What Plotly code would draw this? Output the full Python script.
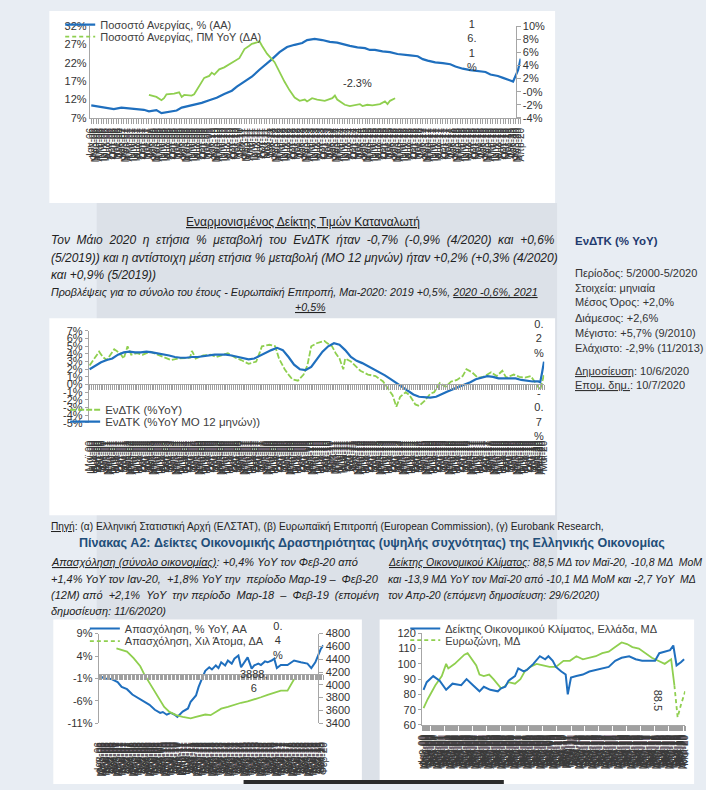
import plotly.graph_objects as go
import pandas as pd

W, H = 706, 790
FONT = "Liberation Sans, Arial, sans-serif"
BLUE = "#1f6fbe"
GREEN = "#8fcf4f"
TXT = "#333333"
AXC = "#a6a6a6"
NB = "\u00a0"


def X(px):
    return px / W


def Y(py):
    return 1 - py / H


GR_MONTHS = ["Ιαν", "Φεβ", "Μαρ", "Απρ", "Μαϊ", "Ιουν", "Ιουλ", "Αυγ", "Σεπ", "Οκτ", "Νοε", "Δεκ"]

# ---------------- Chart 1: unemployment ----------------
unemp_dates = ["2006-01", "2006-05", "2006-09", "2006-10", "2007-01", "2007-04", "2007-07", "2007-10", "2007-12",
               "2008-03", "2008-05", "2008-07", "2008-09", "2008-11", "2009-01", "2009-04", "2009-07", "2009-09",
               "2009-12", "2010-03", "2010-06", "2010-09", "2010-11", "2011-02", "2011-05", "2011-08", "2011-11",
               "2012-01", "2012-04", "2012-07", "2012-10", "2013-01", "2013-03", "2013-06", "2013-09", "2013-12",
               "2014-03", "2014-06", "2014-08", "2014-11", "2015-02", "2015-04", "2015-06", "2015-09", "2015-12",
               "2016-03", "2016-05", "2016-08", "2016-11", "2017-01", "2017-03", "2017-06", "2017-09", "2017-12",
               "2018-02", "2018-05", "2018-08", "2018-11", "2019-02", "2019-04", "2019-07", "2019-09", "2019-12",
               "2020-01", "2020-03", "2020-04"]
unemp_rate = [10.4, 10.0, 9.7, 9.4, 9.8, 9.6, 9.3, 9.2, 8.8,
              9.1, 8.3, 8.6, 8.8, 9.0, 9.8, 10.3, 10.6, 11.1,
              11.8, 12.5, 13.5, 14.4, 15.5, 16.8, 18.2, 20.1, 21.8,
              23.0, 24.9, 26.3, 26.9, 27.4, 28.2, 28.5, 28.2, 27.7,
              27.5, 26.9, 26.6, 26.2, 26.0, 25.5, 25.5, 25.1, 24.9,
              24.4, 24.2, 24.0, 23.8, 23.0, 22.6, 22.1, 21.9, 21.6,
              21.0, 20.4, 20.0, 19.7, 19.5, 18.8, 18.4, 17.9, 17.2,
              16.9, 20.0, 23.1]
unemp_chg_dates = ["2007-12", "2008-03", "2008-05", "2008-06", "2008-07", "2008-10", "2008-12", "2009-01", "2009-02",
                   "2009-05", "2009-06", "2009-07", "2009-09", "2009-10", "2009-12", "2010-01", "2010-02", "2010-04",
                   "2010-06", "2010-08", "2010-10", "2010-12", "2011-01", "2011-02", "2011-04", "2011-05", "2011-07",
                   "2011-08", "2011-09", "2011-11", "2012-02", "2012-04", "2012-06", "2012-08", "2012-10", "2012-12",
                   "2013-02", "2013-03", "2013-05", "2013-07", "2013-09", "2013-10", "2014-01", "2014-02", "2014-03",
                   "2014-06", "2014-08", "2014-10", "2014-12", "2015-01", "2015-03", "2015-05", "2015-08", "2015-10",
                   "2015-11", "2015-12", "2016-02"]
unemp_chg = [-0.5, -0.8, -1.3, -1.0, -0.4, -0.3, -0.1, -0.8, -0.5,
             -0.6, -0.4, 0.2, 1.5, 2.1, 2.4, 2.9, 2.6, 3.4,
             3.7, 4.2, 4.7, 5.1, 5.8, 6.5, 7.0, 7.3, 7.5,
             7.7, 7.0, 5.8, 4.5, 2.9, 1.5, 0.2, -0.9, -1.4,
             -1.2, -1.5, -1.0, -1.2, -1.3, -1.4, -1.0, -0.6, -1.2,
             -2.0, -2.2, -2.1, -1.9, -2.2, -2.0, -2.1, -1.9, -1.5,
             -1.9, -1.4, -1.0]
c1_left_ticks = [7, 12, 17, 22, 27, 32]
c1_left_text = ["7%", "12%", "17%", "22%", "27%", "32%"]
c1_right_ticks = [-4, -2, 0, 2, 4, 6, 8, 10]
c1_right_text = ["-4%", "-2%", "-0%", "2%", "4%", "6%", "8%", "10%"]

# ---------------- Chart 2: HICP ----------------
hicp_ma_dates = ["2000-05", "2000-08", "2000-11", "2001-02", "2001-05", "2001-08", "2001-11", "2002-02", "2002-05",
                 "2002-08", "2002-11", "2003-02", "2003-05", "2003-08", "2003-11", "2004-02", "2004-05", "2004-08",
                 "2004-11", "2005-02", "2005-05", "2005-08", "2005-11", "2006-02", "2006-05", "2006-08", "2006-11",
                 "2007-02", "2007-05", "2007-08", "2007-11", "2008-02", "2008-05", "2008-08", "2008-11", "2009-02",
                 "2009-05", "2009-08", "2009-11", "2010-02", "2010-05", "2010-08", "2010-11", "2011-02", "2011-05",
                 "2011-08", "2011-11", "2012-02", "2012-05", "2012-08", "2012-11", "2013-02", "2013-05", "2013-08",
                 "2013-11", "2014-02", "2014-05", "2014-08", "2014-11", "2015-02", "2015-05", "2015-08", "2015-11",
                 "2016-02", "2016-05", "2016-08", "2016-11", "2017-02", "2017-05", "2017-08", "2017-11", "2018-02",
                 "2018-05", "2018-08", "2018-11", "2019-02", "2019-05", "2019-08", "2019-11", "2020-02", "2020-03",
                 "2020-04", "2020-05"]
hicp_ma = [2.0, 2.5, 2.9, 3.2, 3.4, 3.9, 4.2, 4.3, 4.2,
           4.2, 4.3, 4.2, 4.1, 4.0, 3.8, 3.6, 3.5, 3.5,
           3.6, 3.6, 3.7, 3.8, 3.9, 3.9, 3.9, 3.8, 3.6,
           3.4, 3.3, 3.4, 3.8, 4.1, 4.5, 4.8, 4.5, 3.6,
           2.6, 2.0, 1.9, 2.3, 3.3, 4.3, 5.0, 5.4, 5.2,
           4.5, 3.6, 3.1, 2.8, 2.4, 2.0, 1.6, 1.2, 0.7,
           0.2, -0.3, -0.8, -1.3, -1.6, -1.7, -1.7, -1.6, -1.2,
           -0.9, -0.6, -0.3, -0.1, 0.3, 0.7, 0.9, 1.1, 1.0,
           0.8, 0.8, 0.8, 0.8, 0.6, 0.5, 0.4, 0.4, 0.3,
           1.6, 3.0]
hicp_yoy_dates = ["2000-05", "2000-07", "2000-10", "2000-12", "2001-02", "2001-04", "2001-06", "2001-09", "2001-11",
                  "2002-01", "2002-03", "2002-06", "2002-09", "2003-01", "2003-05", "2003-08", "2003-12", "2004-04",
                  "2004-08", "2004-10", "2004-11", "2005-01", "2005-05", "2005-09", "2005-12", "2006-04", "2006-06",
                  "2006-10", "2007-01", "2007-05", "2007-09", "2007-11", "2007-12", "2008-04", "2008-07", "2008-09",
                  "2008-12", "2009-02", "2009-04", "2009-07", "2009-10", "2009-12", "2010-02", "2010-05", "2010-09",
                  "2010-10", "2011-01", "2011-03", "2011-05", "2011-07", "2011-08", "2011-11", "2012-02", "2012-04",
                  "2012-08", "2012-12", "2013-04", "2013-06", "2013-09", "2013-11", "2014-01", "2014-04", "2014-06",
                  "2014-09", "2014-11", "2015-02", "2015-05", "2015-07", "2015-10", "2016-01", "2016-04", "2016-07",
                  "2016-10", "2016-12", "2017-03", "2017-06", "2017-09", "2018-01", "2018-04", "2018-07", "2018-09",
                  "2019-01", "2019-04", "2019-07", "2019-10", "2019-12", "2020-02", "2020-03", "2020-05"]
hicp_yoy = [2.5, 3.2, 4.3, 3.6, 3.2, 3.9, 4.6, 4.1, 3.4,
            5.0, 3.9, 4.1, 3.9, 4.3, 3.9, 3.6, 3.2, 3.4,
            3.5, 3.5, 4.4, 3.4, 3.8, 3.9, 3.6, 4.0, 4.1,
            3.5, 3.2, 2.7, 3.0, 4.3, 5.0, 5.2, 5.0, 3.4,
            2.0, 1.3, 0.7, 0.5, 1.3, 2.5, 5.0, 5.4, 5.7,
            5.5, 5.0, 4.1, 3.4, 2.0, 3.4, 3.0, 2.3, 1.8,
            1.3, 1.1, 0.4, -0.3, -1.4, -2.9, -1.6, -1.0, -1.4,
            -2.6, -2.8, -2.1, -1.2, -1.0, 0.2, -0.3, 0.4, 0.6,
            1.1, 2.0, 1.6, 0.9, 1.0, 1.6, 1.1, 1.8, 0.9,
            1.3, 1.0, 0.9, 1.1, 0.4, -0.3, -0.7, 1.3]
c2_ticks = [-5, -4, -3, -2, -1, 0, 1, 2, 3, 4, 5, 6, 7]
c2_text = ["-5%", "-4%", "-3%", "-2%", "-1%", "0%", "1%", "2%", "3%", "4%", "5%", "6%", "7%"]

# ---------------- Chart 3: employment ----------------
emp_yoy_dates = ["2006-01", "2006-05", "2006-10", "2007-03", "2007-06", "2007-10", "2008-02", "2008-05", "2008-10",
                 "2009-03", "2009-07", "2009-11", "2010-01", "2010-04", "2010-07", "2010-10", "2010-12", "2011-04",
                 "2011-08", "2011-10", "2012-02", "2012-04", "2012-07", "2012-09", "2012-12", "2013-02", "2013-05",
                 "2013-07", "2013-09", "2013-12", "2014-02", "2014-05", "2014-07", "2014-10", "2014-12", "2015-03",
                 "2015-05", "2015-08", "2015-10", "2016-01", "2016-03", "2016-06", "2016-08", "2016-11", "2017-01",
                 "2017-03", "2017-06", "2017-11", "2018-04", "2018-09", "2019-02", "2019-05", "2019-08", "2019-12",
                 "2020-02"]
emp_yoy = [-0.4, -1.0, -1.1, -1.8, -2.9, -3.4, -4.6, -5.1, -6.0,
           -6.9, -8.0, -8.7, -8.5, -9.1, -8.7, -9.1, -9.6, -8.4,
           -7.7, -6.2, -4.8, -2.9, -0.7, 0.7, 1.5, 1.0, 1.9,
           1.3, 2.6, 1.9, 3.0, 2.3, 3.4, 4.1, 1.5, 3.0,
           3.7, 1.2, 1.9, 2.3, 2.0, 2.8, 2.6, 3.0, 3.4,
           1.3, 2.0, 2.0, 3.0, 2.6, 2.3, 1.3, 2.6, 5.5,
           6.4]
emp_lvl_dates = ["2007-02", "2007-05", "2007-10", "2008-03", "2008-08", "2008-11", "2009-03", "2009-07", "2009-11",
                 "2010-02", "2010-06", "2010-11", "2011-04", "2011-08", "2011-10", "2012-02", "2012-06", "2012-09",
                 "2013-01", "2013-05", "2013-09", "2014-02", "2014-07", "2014-12", "2015-05", "2015-10", "2016-03",
                 "2016-08", "2017-01", "2017-06", "2017-11", "2018-01", "2018-04"]
emp_lvl = [4571, 4555, 4520, 4418, 4290, 4163, 4035, 3893, 3755,
           3654, 3577, 3526, 3500, 3485, 3475, 3500, 3526, 3536,
           3526, 3577, 3628, 3654, 3689, 3720, 3740, 3770, 3806,
           3842, 3872, 3908, 3908, 3985, 4087]
c3_left_ticks = [-11, -6, -1, 4, 9]
c3_left_text = ["-11%", "-6%", "-1%", "4%", "9%"]
c3_right_ticks = [3400, 3600, 3800, 4000, 4200, 4400, 4600, 4800]

# ---------------- Chart 4: economic sentiment ----------------
esi_dates_gr = ["2000-02", "2000-05", "2000-11", "2001-05", "2001-11", "2002-05", "2003-01", "2003-06", "2003-12",
                "2004-06", "2004-10", "2005-04", "2005-11", "2006-02", "2006-06", "2006-09", "2007-03", "2007-06",
                "2007-11", "2008-02", "2008-08", "2009-02", "2009-07", "2009-10", "2010-02", "2010-05", "2010-10",
                "2011-02", "2011-04", "2011-07", "2011-12", "2012-06", "2012-12", "2013-06", "2013-12", "2014-06",
                "2014-12", "2015-06", "2016-01", "2016-07", "2017-01", "2017-07", "2018-01", "2018-05", "2018-10",
                "2019-03", "2019-06", "2019-09", "2020-01", "2020-04"]
esi_gr = [83, 88, 92, 89, 83, 87, 86, 90, 86,
          82, 85, 83, 82, 84, 85, 89, 92, 97,
          95, 96, 100, 105, 103, 105, 102, 98, 95,
          93, 80, 91, 92, 93, 95, 96, 97, 98,
          102, 104, 105, 103, 102, 102, 102, 107, 108,
          109, 112, 99, 101, 103]
esi_dates_ez = ["2000-02", "2000-06", "2001-01", "2001-07", "2001-11", "2002-01", "2002-07", "2002-11", "2003-04",
                "2003-07", "2003-10", "2004-03", "2004-06", "2004-10", "2005-03", "2005-07", "2006-02", "2006-05",
                "2006-09", "2007-03", "2007-08", "2007-12", "2008-05", "2008-11", "2009-05", "2009-11", "2010-05",
                "2010-12", "2011-06", "2011-12", "2012-06", "2012-12", "2013-06", "2013-12", "2014-06", "2014-12",
                "2015-06", "2015-11", "2016-04", "2016-10", "2017-04", "2017-10", "2018-04", "2018-10", "2019-04",
                "2019-07", "2019-10", "2020-01", "2020-05"]
esi_ez = [71, 77, 86, 92, 100, 97, 100, 103, 106,
          107, 104, 99, 93, 92, 93, 90, 84, 85,
          88, 87, 90, 95, 98, 100, 99, 98, 98,
          102, 102, 105, 103, 104, 105, 107, 108, 111,
          114, 113, 111, 110, 107, 104, 102, 100, 103,
          86, 65, 73, 82]
c4_ticks = [60, 70, 80, 90, 100, 110, 120]


def month_ticks(start, end):
    d = pd.date_range(start, end, freq="MS")
    return [v.strftime("%Y-%m-%d") for v in d], [f"{GR_MONTHS[v.month - 1]}-{v.strftime('%y')}" for v in d]


t1v, t1t = month_ticks("2006-01-01", "2020-04-01")
t2v, t2t = month_ticks("2000-05-01", "2020-05-01")
t3v, t3t = month_ticks("2006-01-01", "2020-02-01")
t4v, t4t = month_ticks("2000-01-01", "2020-05-01")

fig = go.Figure()

# chart 1 traces
fig.add_trace(go.Scatter(x=unemp_chg_dates, y=unemp_chg, xaxis="x", yaxis="y2", mode="lines",
                         line=dict(color=GREEN, width=1.8), showlegend=False, hoverinfo="skip"))
fig.add_trace(go.Scatter(x=unemp_dates, y=unemp_rate, xaxis="x", yaxis="y", mode="lines",
                         line=dict(color=BLUE, width=2.2), name="Ποσοστό Ανεργίας, % (ΑΑ)", legend="legend"))
fig.add_trace(go.Scatter(x=[None], y=[None], xaxis="x", yaxis="y2", mode="lines",
                         line=dict(color=GREEN, width=1.8, dash="4px,3px"),
                         name="Ποσοστό Ανεργίας, ΠΜ YoY (ΔΑ)", legend="legend2"))

# chart 2 traces
fig.add_trace(go.Scatter(x=hicp_yoy_dates, y=hicp_yoy, xaxis="x2", yaxis="y3", mode="lines",
                         line=dict(color=GREEN, width=1.8, dash="6px,2px"), name="ΕνΔΤΚ (%YoY)", legend="legend3"))
fig.add_trace(go.Scatter(x=hicp_ma_dates, y=hicp_ma, xaxis="x2", yaxis="y3", mode="lines",
                         line=dict(color=BLUE, width=2.2), name="ΕνΔΤΚ (%YoY ΜΟ 12 μηνών))", legend="legend4"))
fig.add_trace(go.Scatter(x=[t2v[0]], y=[None], xaxis="x3", yaxis="y3", mode="lines",
                         showlegend=False, hoverinfo="skip"))

# chart 3 traces
fig.add_trace(go.Scatter(x=emp_lvl_dates, y=emp_lvl, xaxis="x4", yaxis="y5", mode="lines",
                         line=dict(color=GREEN, width=1.8), showlegend=False, hoverinfo="skip"))
fig.add_trace(go.Scatter(x=emp_yoy_dates, y=emp_yoy, xaxis="x4", yaxis="y4", mode="lines",
                         line=dict(color=BLUE, width=2.0), name="Απασχόληση, % YoY, ΑΑ", legend="legend5"))
fig.add_trace(go.Scatter(x=[None], y=[None], xaxis="x4", yaxis="y5", mode="lines",
                         line=dict(color=GREEN, width=1.8, dash="4px,3px"),
                         name="Απασχόληση, Χιλ Άτομα, ΔΑ", legend="legend6"))
fig.add_trace(go.Scatter(x=[t3v[0]], y=[None], xaxis="x5", yaxis="y4", mode="lines",
                         showlegend=False, hoverinfo="skip"))

# chart 4 traces
fig.add_trace(go.Scatter(x=esi_dates_ez[:-3], y=esi_ez[:-3], xaxis="x6", yaxis="y6", mode="lines",
                         line=dict(color=GREEN, width=1.8), showlegend=False, hoverinfo="skip"))
fig.add_trace(go.Scatter(x=esi_dates_ez[-4:], y=esi_ez[-4:], xaxis="x6", yaxis="y6", mode="lines",
                         line=dict(color=GREEN, width=1.8, dash="4px,3px"), name="Ευρωζώνη, ΜΔ", legend="legend8"))
fig.add_trace(go.Scatter(x=esi_dates_gr, y=esi_gr, xaxis="x6", yaxis="y6", mode="lines",
                         line=dict(color=BLUE, width=2.0), name="Δείκτης Οικονομικού Κλίματος, Ελλάδα, ΜΔ",
                         legend="legend7"))

tickfont_x = dict(size=10, color="#3a3a3a", family=FONT)
tickfont_y = dict(size=11, color=TXT, family=FONT)


def xlab_axis(domain, rng, tv, tt, anchor, ticklen=5, tickcolor="#a0a0a0", showline=True):
    return dict(domain=domain, anchor=anchor, type="date", range=rng, tickmode="array", tickvals=tv,
                ticktext=tt, tickangle=-90, ticks="outside", ticklen=ticklen, tickcolor=tickcolor,
                tickwidth=1, showline=showline, linecolor=AXC, showgrid=False, zeroline=False,
                tickfont=tickfont_x, fixedrange=True)


def tick_axis(over, pos, tv):
    return dict(overlaying=over, matches=over, anchor="free", position=pos, type="date", tickmode="array",
                tickvals=tv, showticklabels=False, ticks="outside", ticklen=5, tickcolor="#a0a0a0",
                tickwidth=1, showline=True, linecolor=AXC, showgrid=False, zeroline=False)


def yax(domain, rng, tv, tt, anchor, **kw):
    d = dict(domain=domain, range=rng, tickmode="array", tickvals=tv, ticktext=tt, showline=True,
             linecolor=AXC, showgrid=False, zeroline=False, ticks="outside", ticklen=3, tickcolor=AXC,
             tickfont=tickfont_y, anchor=anchor, fixedrange=True)
    d.update(kw)
    return d


layout = dict(
    width=W, height=H, margin=dict(l=0, r=0, t=0, b=0), paper_bgcolor="#e8edf3", plot_bgcolor="rgba(0,0,0,0)",
    font=dict(family=FONT, color=TXT, size=11), hovermode=False,
    xaxis=xlab_axis([X(86), X(523)], ["2005-12-14", "2020-04-01"], t1v, t1t, "y"),
    yaxis=yax([Y(113.6), Y(20.4)], [7, 32], c1_left_ticks, c1_left_text, "x", ticks=""),
    yaxis2=yax([Y(113.6), Y(20.4)], [-4, 10], c1_right_ticks, c1_right_text, "free",
               overlaying="y", side="right", position=X(518), ticklen=4),
    xaxis2=xlab_axis([X(85), X(547)], ["2000-04-18", "2020-05-05"], t2v, t2t, "y3", ticklen=13,
                     tickcolor="rgba(0,0,0,0)", showline=False),
    xaxis3=tick_axis("x2", Y(384.3), t2v),
    yaxis3=yax([Y(423.2), Y(330)], [-5, 7], c2_ticks, c2_text, "x2"),
    xaxis4=xlab_axis([X(95), X(323)], ["2005-12-20", "2020-02-03"], t3v, t3t, "y4", ticklen=14,
                     tickcolor="rgba(0,0,0,0)", showline=False),
    xaxis5=tick_axis("x4", Y(678.3), t3v),
    yaxis4=yax([Y(728.3), Y(637.3)], [-11, 9], c3_left_ticks, c3_left_text, "x4"),
    yaxis5=yax([Y(728.3), Y(637.3)], [3400, 4800], c3_right_ticks, [str(v) for v in c3_right_ticks], "free",
               overlaying="y4", side="right", position=X(318), ticklen=4),
    xaxis6=xlab_axis([X(423), X(690)], ["1999-12-20", "2020-05-03"], t4v, t4t, "y6"),
    yaxis6=yax([Y(730), Y(637)], [60, 120], c4_ticks, [str(v) for v in c4_ticks], "x6"),
)


def leg(text_x, text_y, size=11):
    return dict(x=X(text_x - 40), y=Y(text_y), xanchor="left", yanchor="middle", bgcolor="rgba(0,0,0,0)",
                borderwidth=0, font=dict(size=size, color="#404040", family=FONT))


layout["legend"] = leg(96, 19)
layout["legend2"] = leg(96, 31)
layout["legend3"] = leg(101, 410, 11.5)
layout["legend4"] = leg(101, 422, 11.5)
layout["legend5"] = leg(121, 632)
layout["legend6"] = leg(121, 645)
layout["legend7"] = leg(446, 632)
layout["legend8"] = leg(446, 644)


def rect(x0, y0, x1, y1, color, layer="below"):
    return dict(type="rect", xref="paper", yref="paper", x0=X(x0), x1=X(x1), y0=Y(y1), y1=Y(y0),
                fillcolor=color, line=dict(width=0), layer=layer)


layout["shapes"] = [
    rect(93, 200, 560, 790, "#dce1e8"),
    rect(45, 5, 558, 200, "#ffffff"),
    rect(45, 317, 558, 517, "#ffffff"),
    rect(49, 623, 362, 790, "#ffffff"),
    rect(380, 623, 699, 790, "#ffffff"),
    rect(242, 786, 506, 790, "#2b2b2b", layer="above"),
]


def txt(px, py, text, size=11, color=TXT, anchor="left", **kw):
    d = dict(x=X(px), y=Y(py), xref="paper", yref="paper", text=text, showarrow=False, xanchor=anchor,
             yanchor="middle", font=dict(size=size, color=color, family=FONT))
    d.update(kw)
    return d


def spread(line, extra):
    """Widen a justified paragraph line by adding `extra` non-breaking spaces across its word gaps."""
    words = line.split(" ")
    gaps = len(words) - 1
    out = words[0]
    for i, w in enumerate(words[1:]):
        n = (extra * (i + 1)) // gaps - (extra * i) // gaps
        out += " " + NB * n + w
    return out


def para(px, py, line, extra=0, size=11, anchor="left"):
    return txt(px, py, "<i>" + spread(line, extra) + "</i>", size=size, color="#222222", anchor=anchor)


ann = [
    # data labels
    txt(474, 40, "1<br>6.<br>1<br>%", anchor="center"),
    txt(358, 78, "-2.3%", anchor="center"),
    txt(542, 338, "0.<br>2<br>%", anchor="center"),
    txt(542, 415, "-<br>0.<br>7<br>%", anchor="center"),
    txt(277, 644, "0.<br>4<br>%", anchor="center"),
    txt(253, 685, "3888,<br>6", anchor="center"),
    txt(662, 705, "88.5", anchor="center", textangle=90),
    # header
    txt(302, 219, "<u>Εναρμονισμένος Δείκτης Τιμών Καταναλωτή</u>", size=12, color="#222222", anchor="center"),
    para(45, 238, "Τον Μάιο 2020 η ετήσια % μεταβολή του ΕνΔΤΚ ήταν -0,7% (-0,9% (4/2020) και +0,6%", 14, 12),
    para(45, 256, "(5/2019)) και η αντίστοιχη μέση ετήσια % μεταβολή (ΜΟ 12 μηνών) ήταν +0,2% (+0,3% (4/2020)",
         0, 12),
    para(45, 273, "και +0,9% (5/2019))", 0, 12),
    txt(294, 290, "<i>Προβλέψεις για το σύνολο του έτους - Ευρωπαϊκή Επιτροπή, Μαι-2020: 2019 +0,5%, "
                  "<u>2020 -0,6%, 2021</u></i>", size=10.7, color="#222222", anchor="center"),
    txt(310, 306, "<i><u>+0,5%</u></i>", size=10.7, color="#222222", anchor="center"),
    # right column
    txt(576, 239, "<b>ΕνΔΤΚ (% YoY)</b>", size=11.5, color="#1f3a6e"),
    txt(576, 271, "Περίοδος: 5/2000-5/2020"),
    txt(576, 286, "Στοιχεία: μηνιαία"),
    txt(576, 301, "Μέσος Όρος: +2,0%"),
    txt(576, 317, "Διάμεσος: +2,6%"),
    txt(576, 332, "Μέγιστο: +5,7% (9/2010)"),
    txt(576, 347, "Ελάχιστο: -2,9% (11/2013)"),
    txt(576, 371, "<u>Δημοσίευση</u>: 10/6/2020"),
    txt(576, 385, "<u>Επομ. δημ.</u>: 10/7/2020"),
    # bottom text
    txt(45, 529, "<u>Πηγή</u>: (α) Ελληνική Στατιστική Αρχή (ΕΛΣΤΑΤ), (β) Ευρωπαϊκή Επιτροπή (European Commission), "
                 "(γ) Eurobank Research,", size=10.2, color="#222222"),
    txt(372, 545, "<b>Πίνακας A2: Δείκτες Οικονομικής Δραστηριότητας (υψηλής συχνότητας) της Ελληνικής Οικονομίας</b>",
        size=12.5, color="#1f4e79", anchor="center"),
    txt(45, 565, "<i><u>Απασχόληση (σύνολο οικονομίας)</u>: +0,4% YoY τον Φεβ-20 από</i>", size=11, color="#222222"),
    para(45, 582, "+1,4% YoY τον Ιαν-20, +1,8% YoY την περίοδο Μαρ-19 – Φεβ-20", 3),
    para(45, 598, "(12M) από +2,1% YoY την περίοδο Μαρ-18 – Φεβ-19 (επομένη", 7),
    para(45, 614, "δημοσίευση: 11/6/2020)"),
    txt(386, 565, "<i><u>Δείκτης Οικονομικού Κλίματος</u>: " + spread("88,5 ΜΔ τον Μαϊ-20, -10,8 ΜΔ MoM", 1)
        + "</i>", size=10.5, color="#222222"),
    para(386, 582, "και -13,9 ΜΔ YoY τον Μαϊ-20 από -10,1 ΜΔ MoM και -2,7 YoY ΜΔ", 1, 10.5),
    para(386, 598, "τον Απρ-20 (επόμενη δημοσίευση: 29/6/2020)", 0, 10.5),
]
layout["annotations"] = ann

fig.update_layout(**layout)

fig.write_html("out.html", include_plotlyjs=True, full_html=True, config={"displayModeBar": False},
               post_script="document.body.style.margin='0';document.body.style.overflow='hidden';")
